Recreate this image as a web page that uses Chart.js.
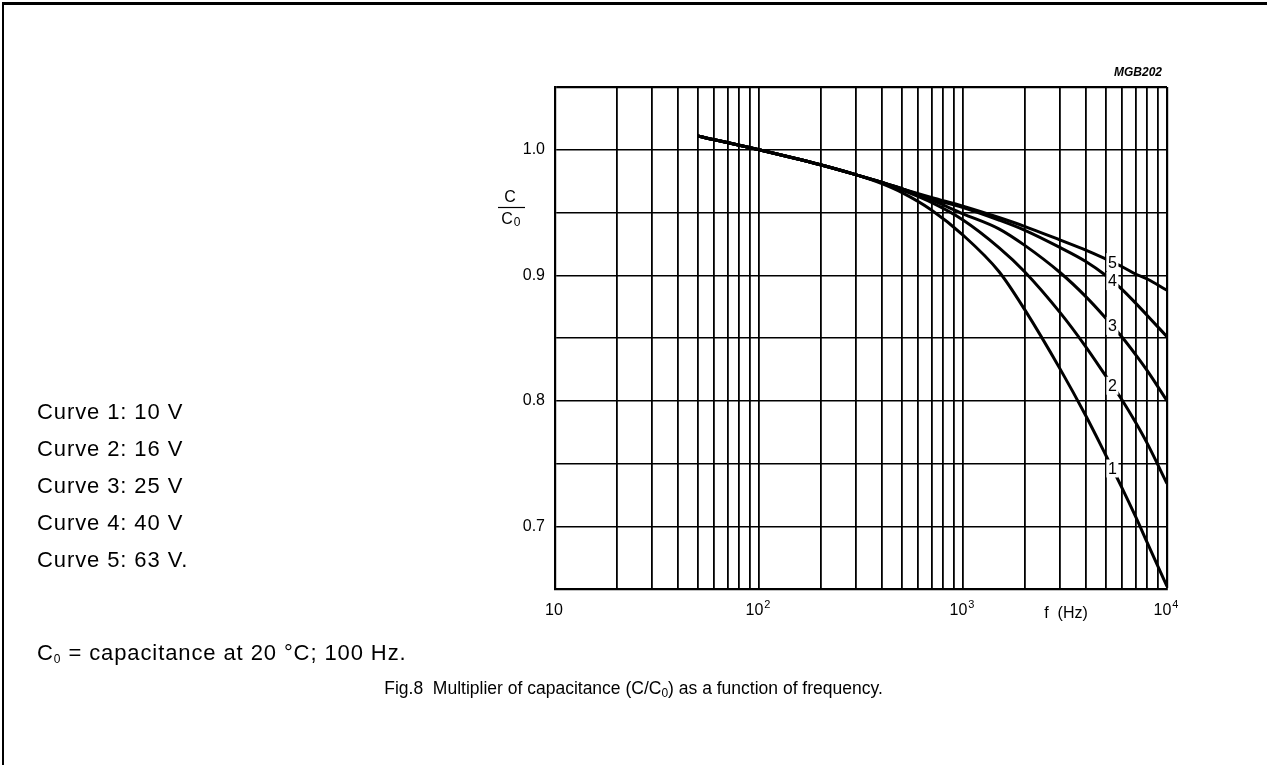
<!DOCTYPE html>
<html lang="en">
<head>
<meta charset="utf-8" />
<title>Fig.8 Multiplier of capacitance</title>
<script src="https://cdnjs.cloudflare.com/ajax/libs/Chart.js/4.4.1/chart.umd.min.js"></script>
<style>
  body { margin: 0; background: #fff; color: #000; font-family: "Liberation Sans", Arial, sans-serif; }
  #page { position: relative; width: 1267px; height: 765px; overflow: hidden; background: #fff; }
  #frame { position: absolute; left: 2px; top: 2px; width: 1300px; height: 800px; border-top: 3px solid #000; border-left: 2px solid #000; }
  #grafico { position: absolute; left: 0; top: 0; }
  .note { position: absolute; left: 37px; font-size: 22px; letter-spacing: 0.9px; line-height: 24px; white-space: nowrap; }
  .note sub, #caption sub { font-size: 12px; vertical-align: -3px; }
  #caption { position: absolute; left: 0; width: 1267px; text-align: center; top: 676px; font-size: 17.5px; line-height: 24px; white-space: nowrap; }
</style>
</head>
<body>
<div id="page">
  <div id="frame"></div>
  <canvas id="grafico" width="1267" height="765"></canvas>
  <div class="note" style="top:400px">Curve 1: 10 V</div>
  <div class="note" style="top:437px">Curve 2: 16 V</div>
  <div class="note" style="top:474px">Curve 3: 25 V</div>
  <div class="note" style="top:511px">Curve 4: 40 V</div>
  <div class="note" style="top:548px">Curve 5: 63 V.</div>
  <div class="note" style="top:641px">C<sub>0</sub> = capacitance at 20 °C; 100 Hz.</div>
  <div id="caption">Fig.8&nbsp;&nbsp;Multiplier of capacitance (C/C<sub>0</sub>) as a function of frequency.</div>
</div>
<script>
// frequency in Hz, shared by all curves
const freq = [50, 100, 200, 300, 400, 500, 700, 1000, 1500, 2000, 3000, 4000, 5000, 6000, 7000, 8000, 10000];
// C/C0
const curve1 = [1.011, 1.000, 0.988, 0.980, 0.973, 0.966, 0.952, 0.932, 0.903, 0.873, 0.825, 0.788, 0.757, 0.731, 0.708, 0.687, 0.652];
const curve2 = [1.011, 1.000, 0.988, 0.980, 0.974, 0.968, 0.958, 0.944, 0.922, 0.903, 0.870, 0.843, 0.820, 0.801, 0.783, 0.766, 0.734];
const curve3 = [1.011, 1.000, 0.988, 0.980, 0.974, 0.969, 0.960, 0.949, 0.937, 0.924, 0.902, 0.883, 0.866, 0.851, 0.837, 0.824, 0.800];
const curve4 = [1.011, 1.000, 0.988, 0.980, 0.974, 0.969, 0.961, 0.954, 0.944, 0.936, 0.922, 0.911, 0.900, 0.889, 0.878, 0.868, 0.851];
const curve5 = [1.011, 1.000, 0.988, 0.980, 0.974, 0.969, 0.962, 0.955, 0.946, 0.939, 0.928, 0.920, 0.913, 0.907, 0.901, 0.897, 0.888];
const curveNames = ['1', '2', '3', '4', '5'];
const labelFreq = 5400;
// axis labels
const yLabelValues = [0.7, 0.8, 0.9, 1.0];
const xDecades = [10, 100, 1000, 10000];
const xExponents = ['', '2', '3', '4'];

const curves = [curve1, curve2, curve3, curve4, curve5];
const FONT = '"Liberation Sans", Arial, sans-serif';

// log grid: 1..9 in every decade
const gridFreqs = [];
[10, 100, 1000].forEach(d => { for (let k = 1; k <= 9; k++) gridFreqs.push(k * d); });
gridFreqs.push(10000);

function valueAt(values, f) {
  for (let i = 0; i < freq.length - 1; i++) {
    if (f >= freq[i] && f <= freq[i + 1]) {
      const t = (Math.log10(f) - Math.log10(freq[i])) / (Math.log10(freq[i + 1]) - Math.log10(freq[i]));
      return values[i] + t * (values[i + 1] - values[i]);
    }
  }
  return values[values.length - 1];
}

const textos = {
  id: 'textos',
  afterDatasetsDraw(chart) {
    const ctx = chart.ctx, x = chart.scales.x, y = chart.scales.y;
    ctx.save();
    ctx.font = '16px ' + FONT;
    ctx.textAlign = 'center';
    ctx.textBaseline = 'middle';
    // curve numbers at 5.4 kHz, with a white patch that breaks the line
    curves.forEach((values, i) => {
      const px = x.getPixelForValue(labelFreq);
      const py = y.getPixelForValue(valueAt(values, labelFreq));
      ctx.fillStyle = '#fff';
      ctx.fillRect(px - 6, py - 9, 12, 18);
      ctx.fillStyle = '#000';
      ctx.fillText(curveNames[i], px, py + 1);
    });
    ctx.restore();
  },
  afterDraw(chart) {
    const ctx = chart.ctx, x = chart.scales.x;
    ctx.save();
    ctx.fillStyle = '#000';
    ctx.strokeStyle = '#000';
    ctx.textBaseline = 'middle';
    // 10, 10^2 ... under the axis
    xDecades.forEach((d, i) => {
      const px = x.getPixelForValue(d);
      ctx.font = '16px ' + FONT;
      const wb = ctx.measureText('10').width;
      ctx.font = '11px ' + FONT;
      const we = xExponents[i] ? ctx.measureText(xExponents[i]).width + 1 : 0;
      const start = px - (wb + we) / 2 - 1;
      ctx.textAlign = 'left';
      ctx.font = '16px ' + FONT;
      ctx.fillText('10', start, 611);
      if (xExponents[i]) {
        ctx.font = '11px ' + FONT;
        ctx.fillText(xExponents[i], start + wb + 1, 605);
      }
    });
    ctx.font = '16px ' + FONT;
    ctx.textAlign = 'center';
    ctx.fillText('f  (Hz)', 1066, 614);
    // C / C0 fraction
    ctx.fillText('C', 510, 198);
    ctx.lineWidth = 1.2;
    ctx.beginPath();
    ctx.moveTo(498, 207.5);
    ctx.lineTo(525, 207.5);
    ctx.stroke();
    ctx.fillText('C', 507, 220);
    ctx.font = '12px ' + FONT;
    ctx.fillText('0', 517, 223);
    ctx.font = 'italic bold 12px ' + FONT;
    ctx.textAlign = 'right';
    ctx.fillText('MGB202', 1162, 73);
    ctx.restore();
  }
};

new Chart(document.getElementById('grafico'), {
  type: 'line',
  data: {
    datasets: curves.map((values, i) => ({
      label: 'Curve ' + curveNames[i],
      data: freq.map((f, j) => ({ x: f, y: values[j] })),
      borderColor: '#000',
      borderWidth: 3,
      pointRadius: 0,
      fill: false,
      cubicInterpolationMode: 'monotone'
    }))
  },
  options: {
    responsive: false,
    animation: false,
    layout: { padding: { left: 0, top: 87, right: 100, bottom: 0 } },
    plugins: { legend: { display: false }, tooltip: { enabled: false } },
    scales: {
      x: {
        type: 'logarithmic',
        min: 10,
        max: 10000,
        afterBuildTicks: scale => { scale.ticks = gridFreqs.map(v => ({ value: v })); },
        afterFit: scale => { scale.height = 176; },
        ticks: { display: false },
        grid: {
          color: '#000',
          lineWidth: c => (c.tick && c.tick.value === 10000 ? 2.2 : 1.8),
          drawTicks: false
        },
        border: { display: true, color: '#000', width: 2.2 }
      },
      y: {
        min: 0.65,
        max: 1.05,
        afterFit: scale => { scale.width = 555; },
        ticks: {
          stepSize: 0.05,
          padding: 10,
          color: '#000',
          font: { family: FONT, size: 16 },
          callback: v => {
            const hit = yLabelValues.find(l => Math.abs(l - v) < 1e-6);
            return hit === undefined ? '' : hit.toFixed(1);
          }
        },
        grid: {
          color: '#000',
          lineWidth: c => (c.tick && Math.abs(c.tick.value - 1.05) < 1e-6 ? 2.2 : 1.4),
          drawTicks: false
        },
        border: { display: true, color: '#000', width: 2.2 }
      }
    }
  },
  plugins: [textos]
});
</script>
</body>
</html>
